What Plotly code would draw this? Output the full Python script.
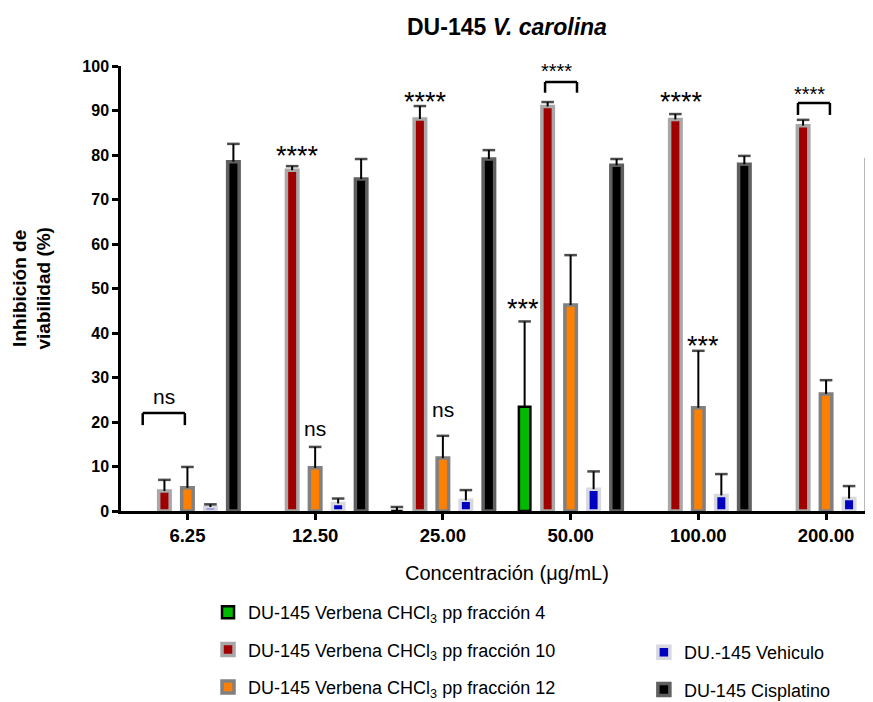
import plotly.graph_objects as go

# ---------------- data ----------------
categories = ["6.25", "12.50", "25.00", "50.00", "100.00", "200.00"]

names = [
    "DU-145 Verbena CHCl<sub>3</sub> pp fracción 4",
    "DU-145 Verbena CHCl<sub>3</sub> pp fracción 10",
    "DU-145 Verbena CHCl<sub>3</sub> pp fracción 12",
    "DU.-145 Vehiculo",
    "DU-145 Cisplatino",
]

frac4 = [None, None, 0.0, 23.4, None, None]
frac4_err = [None, None, 0.9, 19.2, None, None]

frac10 = [4.5, 76.6, 88.1, 90.9, 88.0, 86.6]
frac10_err = [2.5, 0.9, 2.9, 1.0, 1.2, 1.3]

frac12 = [5.2, 9.7, 11.9, 46.3, 23.2, 26.3]
frac12_err = [4.7, 4.7, 5.0, 11.2, 12.8, 3.1]

vehiculo = [0.9, 1.7, 2.4, 4.9, 3.5, 2.8]
vehiculo_err = [0.6, 1.1, 2.3, 4.0, 4.8, 2.8]

cisplatino = [78.5, 74.6, 79.1, 77.7, 77.9, 79.0]
cisplatino_err = [4.0, 4.5, 2.0, 1.4, 1.9, 2.8]

y_ticks = [0, 10, 20, 30, 40, 50, 60, 70, 80, 90, 100]

# ---------------- styles ----------------
values = [frac4, frac10, frac12, vehiculo, cisplatino]
errors = [frac4_err, frac10_err, frac12_err, vehiculo_err, cisplatino_err]
fills = ["#00bb00", "#a00000", "#ff8000", "#0000c0", "#000000"]
borders = ["#000000", "#a8a8a8", "#808080", "#d8d8e0", "#606060"]
bwidths = [2.5, 3.5, 3.5, 3.5, 3.5]
legends = ["legend", "legend", "legend", "legend2", "legend2"]

FONT = "Liberation Sans, Arial, sans-serif"

fig = go.Figure()

for i in range(5):
    fig.add_trace(go.Bar(
        x=categories, y=values[i], name=names[i],
        marker=dict(color=fills[i], line=dict(color=borders[i], width=bwidths[i])),
        offsetgroup=str(i), legend=legends[i], legendgroup=str(i),
    ))

# upper-only error bars: stems + caps, grouped like the bars
for i in range(5):
    xs, ys, sizes = [], [], []
    for c, v, e in zip(categories, values[i], errors[i]):
        if v is None or e is None:
            continue
        xs += [c, c, c]
        ys += [v, v + e, None]
        sizes += [0, 9, 0]
    fig.add_trace(go.Scatter(
        x=xs, y=ys, mode="lines+markers", offsetgroup=str(i),
        line=dict(color="black", width=2),
        marker=dict(symbol="line-ew", size=sizes, color="black",
                    line=dict(color="black", width=2.5)),
        showlegend=False, hoverinfo="skip", connectgaps=False,
    ))

# significance labels
sig = [
    ("ns", -0.18, 25.8, 21), ("ns", 1.0, 18.65, 21), ("ns", 2.0, 22.7, 21),
    ("****", 0.86, 79.7, 27), ("****", 1.86, 92.0, 27), ("****", 3.865, 92.0, 27),
    ("****", 2.89, 98.8, 20), ("****", 4.87, 93.8, 20),
    ("***", 2.63, 45.5, 27), ("***", 4.04, 37.0, 27),
]
for t, x, y, s in sig:
    fig.add_annotation(x=x, y=y, xref="x", yref="y", text=t, showarrow=False,
                       font=dict(family=FONT, size=s, color="black"),
                       xanchor="center", yanchor="middle")

brackets = [(-0.35, -0.02, 19.3, 22.0), (2.80, 3.05, 94.0, 96.4), (4.78, 5.03, 89.0, 91.7)]
for x0, x1, yb, yt in brackets:
    for (a, b, c, d) in [(x0, yb, x0, yt), (x0, yt, x1, yt), (x1, yt, x1, yb)]:
        fig.add_shape(type="line", xref="x", yref="y", x0=a, y0=b, x1=c, y1=d,
                      line=dict(color="black", width=2.5))

# titles
fig.add_annotation(xref="paper", yref="paper", x=0.5079, y=1.0, yshift=39,
                   xanchor="center", yanchor="middle",
                   text="<b>DU-145 <i>V. carolina</i></b>", showarrow=False,
                   font=dict(family=FONT, size=23, color="black"))
fig.add_annotation(xref="paper", yref="paper", x=-0.1184, y=0.5, textangle=-90,
                   xanchor="center", yanchor="middle",
                   text="<b>Inhibición de<br>viabilidad (%)</b>", showarrow=False,
                   font=dict(family=FONT, size=19, color="black"))
fig.add_annotation(xref="paper", yref="paper", x=0.5079, y=0, yshift=-62,
                   xanchor="center", yanchor="middle",
                   text="Concentración (μg/mL)", showarrow=False,
                   font=dict(family=FONT, size=20, color="black"))

# the page body adds an 8px margin; the plot runs past the window's right edge,
# which crops the last bar group as in the reference
fig.update_layout(
    width=873, height=694,
    margin=dict(l=113, r=0, t=58, b=191, autoexpand=False),
    plot_bgcolor="white", paper_bgcolor="white",
    barmode="group", bargap=0.1, bargroupgap=0.5,
    scattermode="group", scattergap=0.1,
    font=dict(family=FONT, color="black"),
    xaxis=dict(type="category", range=[-0.52, 5.43], showline=True, linecolor="black",
               linewidth=2.5, ticks="outside", ticklen=6, tickwidth=2.5, tickcolor="black",
               tickfont=dict(family=FONT, size=18.5, weight="bold"), showgrid=False,
               zeroline=False, automargin=False),
    yaxis=dict(range=[0, 100], tickvals=y_ticks, showline=True, linecolor="black",
               linewidth=2.5, ticks="outside", ticklen=6, tickwidth=2.5, tickcolor="black",
               tickfont=dict(family=FONT, size=16, weight="bold"), showgrid=False,
               zeroline=False, automargin=False),
    legend=dict(x=0.1145, y=-0.1865, xanchor="left", yanchor="top",
                font=dict(family=FONT, size=18), tracegroupgap=11,
                bgcolor="rgba(0,0,0,0)"),
    legend2=dict(x=0.688, y=-0.2764, xanchor="left", yanchor="top",
                 font=dict(family=FONT, size=18), tracegroupgap=11,
                 bgcolor="rgba(0,0,0,0)"),
)

fig.write_html("out.html")
